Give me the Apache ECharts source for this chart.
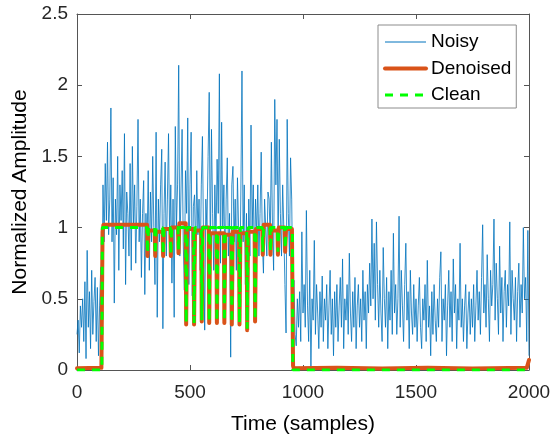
<!DOCTYPE html>
<html><head><meta charset="utf-8">
<script src="https://cdn.jsdelivr.net/npm/echarts@6/dist/echarts.min.js"></script>
<style>html,body{margin:0;padding:0;background:#fff}#c{width:554px;height:441px}</style>
</head><body><div id="c"></div>
<script>
var xTicks = [0, 500, 1000, 1500, 2000];
var yTicks = [0, 0.5, 1, 1.5, 2, 2.5];
var sampleStep = 5;
var noisy = [
0.25,0.35,0.12,0.45,0.30,0.50,0.20,0.62,0.08,0.84,
0.30,0.55,0.15,0.70,0.25,0.48,0.65,0.20,0.58,0.10,
0.45,0.72,0.35,1.30,0.90,1.45,1.05,1.60,0.95,1.20,
1.84,0.90,1.35,0.47,1.20,0.95,1.50,0.70,1.30,1.05,
1.40,0.85,1.66,0.60,1.25,1.10,0.80,1.45,0.70,1.57,
1.00,1.30,0.75,1.15,1.76,0.90,1.20,0.65,1.10,1.33,
0.53,1.10,0.85,1.40,0.70,1.25,0.90,1.50,1.00,0.60,
1.67,0.37,1.20,0.90,1.30,1.55,0.29,1.10,1.46,0.80,
1.20,1.66,0.90,1.30,0.61,1.20,0.37,1.71,1.00,1.30,
2.14,0.80,1.25,1.69,0.90,0.56,1.40,1.10,1.77,0.60,
1.30,1.67,0.52,1.15,1.23,0.80,1.40,0.95,1.20,0.70,
1.30,1.64,0.90,0.28,1.20,1.00,1.50,1.95,0.80,1.69,
1.10,0.70,1.30,0.90,1.48,1.10,2.08,0.75,1.74,1.00,
1.30,0.60,1.20,1.49,0.80,1.10,0.09,1.30,1.43,0.90,
1.20,0.70,1.35,1.00,0.50,1.25,2.10,0.90,1.30,0.60,
1.10,0.29,1.20,0.80,1.72,1.00,1.30,0.70,1.20,0.95,
1.30,0.80,1.10,1.53,0.90,0.68,1.20,1.00,0.80,1.25,
1.20,0.90,1.60,1.00,0.70,1.90,1.30,1.76,0.90,1.62,
1.10,0.80,1.30,1.00,0.60,0.26,1.76,1.10,0.80,1.49,
1.20,0.50,0.63,0.25,0.17,0.50,0.30,0.55,0.20,0.97,
0.40,0.60,0.30,1.12,0.45,0.20,0.70,0.02,0.50,0.35,
0.91,0.25,0.60,0.40,0.15,0.55,0.30,0.66,0.20,0.50,
0.35,0.60,0.15,0.45,0.70,0.25,0.50,0.10,0.55,0.30,
0.60,0.20,0.45,0.65,0.30,0.78,0.15,0.50,0.35,0.60,
0.25,0.82,0.40,0.20,0.55,0.30,0.65,0.15,0.45,0.60,
0.30,0.50,0.20,0.70,0.35,0.55,0.15,0.60,0.40,0.75,
0.45,1.06,0.50,0.89,0.35,1.04,0.60,0.30,0.70,0.40,
0.20,0.86,0.50,0.30,0.65,0.15,0.55,0.35,0.70,0.25,
0.96,0.40,0.60,0.25,0.50,1.08,0.30,0.70,0.45,0.20,
0.60,0.89,0.35,0.55,0.15,0.70,0.40,0.25,0.60,0.30,
0.50,0.20,0.45,0.65,0.30,0.15,0.50,0.35,0.60,0.20,
0.77,0.30,0.45,0.10,0.55,0.25,0.60,0.35,0.20,0.50,
0.30,0.65,0.83,0.20,0.50,0.35,0.60,0.10,0.45,0.70,
0.30,0.55,0.20,0.78,0.40,0.60,0.15,0.50,0.35,0.89,
0.30,0.50,0.20,0.45,0.60,0.15,0.40,0.55,0.25,0.50,
0.30,0.60,0.20,0.45,0.70,0.35,0.55,0.25,0.65,1.02,
0.40,0.60,0.30,0.81,0.50,0.20,0.70,0.45,0.60,1.06,
0.35,0.75,0.50,0.25,0.87,0.40,0.65,0.20,0.55,0.70,
0.30,0.60,0.45,1.04,0.25,0.70,0.50,0.35,0.65,0.20,
0.55,0.75,0.30,0.60,0.40,1.00,0.50,0.65,0.20,0.98,
0.10
];
// clean signal: pulse from rise to fall with narrow dips
var cleanRise = 111;
var cleanFall = 954;
var dipCenters = [313,347,382,416,450,484,519,553,586,620,653,686,720,754,789,823,857,890,922];
var cleanDipDepth = [0.82,0.81,0.81,0.81,0.84,0.33,0.33,0.35,0.34,0.34,0.34,0.33,0.33,0.29,0.35,0.83,0.83,0.83,0.85];
var denoisedDipDepth = [0.80,0.80,0.80,0.80,0.82,0.32,0.32,0.34,0.33,0.33,0.33,0.32,0.32,0.28,0.34,0.81,0.81,0.81,0.83];
var denoisedTop = [1.02,0.98,0.97,0.99,1.00,1.03,0.99,0.98,1.00,0.96,0.96,0.95,0.97,0.96,0.97,0.99,1.02,0.98,1.00,0.99];
var denoisedTailX = [960, 1150, 1350, 1550, 1750, 1990, 2000];
var denoisedTailY = [0.012, 0.016, 0.010, 0.016, 0.011, 0.015, 0.07];

var noisyData = noisy.map(function (v, i) { return [i * sampleStep, v]; });

var cleanData = [[0, 0], [cleanRise - 1, 0], [cleanRise + 1, 1]];
dipCenters.forEach(function (c, i) {
  cleanData.push([c - 3, 1], [c - 1, cleanDipDepth[i]], [c + 1, cleanDipDepth[i]], [c + 3, 1]);
});
cleanData.push([cleanFall - 1, 1], [cleanFall + 1, 0], [2000, 0]);

var denData = [[0, 0.012], [cleanRise - 3, 0.015], [cleanRise + 2, 0.97], [cleanRise + 6, denoisedTop[0]]];
dipCenters.forEach(function (c, i) {
  denData.push([c - 3, denoisedTop[i]], [c - 1, denoisedDipDepth[i]], [c + 1, denoisedDipDepth[i]], [c + 3, denoisedTop[i + 1]]);
});
denData.push([cleanFall - 3, denoisedTop[denoisedTop.length - 1]], [cleanFall + 2, 0.03], [cleanFall + 5, 0.012]);
denoisedTailX.forEach(function (x, i) { denData.push([x, denoisedTailY[i]]); });

var FONT = "'Liberation Sans', Arial, Helvetica, sans-serif";
var AX = '#555555';
var TXT = '#262626';
var chart = echarts.init(document.getElementById('c'), null, { renderer: 'canvas' });
chart.setOption({
  animation: false,
  backgroundColor: '#ffffff',
  textStyle: { fontFamily: FONT },
  grid: { left: 77, right: 25, top: 14, bottom: 71, containLabel: false },
  legend: {
    show: true, type: 'plain',
    orient: 'vertical', left: 378, top: 25,
    itemWidth: 41, itemHeight: 14, itemGap: 6.5, itemTextGap: 5,
    padding: [7, 5, 3, 5],
    borderColor: '#8c8c8c', borderWidth: 1, borderRadius: 0,
    backgroundColor: '#ffffff',
    itemStyle: { opacity: 0 },
    textStyle: { fontSize: 19, color: '#000', fontFamily: FONT, lineHeight: 20 },
    data: [
      { name: 'Noisy', lineStyle: { width: 1 } },
      { name: 'Denoised', lineStyle: { width: 4 } },
      { name: 'Clean', lineStyle: { width: 3 } }
    ]
  },
  xAxis: [{
    type: 'value', min: 0, max: 2000, interval: 500, position: 'bottom',
    name: 'Time (samples)', nameLocation: 'middle', nameGap: 44,
    nameTextStyle: { fontSize: 21, color: '#000', fontFamily: FONT },
    axisLine: { show: true, onZero: false, lineStyle: { color: AX, width: 1 } },
    axisTick: { show: true, inside: true, length: 5, lineStyle: { color: AX } },
    axisLabel: { fontSize: 19, color: TXT, margin: 13, fontFamily: FONT,
      formatter: function (v) { return xTicks.indexOf(v) >= 0 ? String(v) : ''; } },
    splitLine: { show: false }
  }, {
    type: 'value', min: 0, max: 2000, interval: 500, position: 'top',
    axisLine: { show: true, onZero: false, lineStyle: { color: AX, width: 1 } },
    axisTick: { show: true, inside: true, length: 5, lineStyle: { color: AX } },
    axisLabel: { show: false }, splitLine: { show: false }
  }],
  yAxis: [{
    type: 'value', min: 0, max: 2.5, interval: 0.5, position: 'left',
    name: 'Normalized Amplitude', nameLocation: 'middle', nameGap: 46,
    nameTextStyle: { fontSize: 21, color: '#000', fontFamily: FONT },
    axisLine: { show: true, onZero: false, lineStyle: { color: AX, width: 1 } },
    axisTick: { show: true, inside: true, length: 5, lineStyle: { color: AX } },
    axisLabel: { fontSize: 19, color: TXT, margin: 9, fontFamily: FONT,
      formatter: function (v) { return yTicks.indexOf(v) >= 0 ? String(v) : ''; } },
    splitLine: { show: false }
  }, {
    type: 'value', min: 0, max: 2.5, interval: 0.5, position: 'right',
    axisLine: { show: true, onZero: false, lineStyle: { color: AX, width: 1 } },
    axisTick: { show: true, inside: true, length: 5, lineStyle: { color: AX } },
    axisLabel: { show: false }, splitLine: { show: false }
  }],
  series: [{
    name: 'Noisy', type: 'line', data: noisyData, showSymbol: false, symbol: 'none',
    lineStyle: { color: '#0072BD', width: 0.8 }, itemStyle: { color: '#0072BD' }, z: 1
  }, {
    name: 'Denoised', type: 'line', data: denData, showSymbol: false, symbol: 'none',
    lineStyle: { color: '#D95319', width: 4, join: 'round', cap: 'round' }, itemStyle: { color: '#D95319' }, z: 2
  }, {
    name: 'Clean', type: 'line', data: cleanData, showSymbol: false, symbol: 'none',
    lineStyle: { color: '#00FF00', width: 3, type: [8, 7] }, itemStyle: { color: '#00FF00' }, z: 3
  }]
});
</script></body></html>
